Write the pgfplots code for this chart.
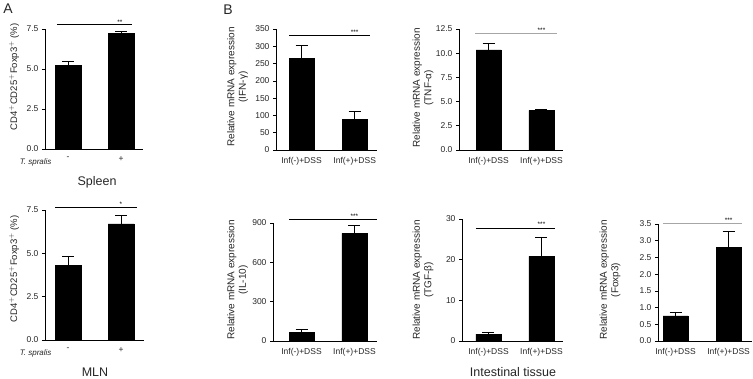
\documentclass[border=0pt]{standalone}
\usepackage{pgfplots}
\pgfplotsset{compat=1.18}
\usepackage{fontspec}
\setmainfont{Liberation Sans}
\definecolor{txt}{gray}{0.15}
\pgfplotsset{
  mybar/.style={
    scale only axis, anchor=south west,
    axis x line*=bottom, axis y line*=left,
    axis line style={black, line width=0.6pt},
    xtick={0,1}, xticklabels={Inf(-)+DSS, Inf(+)+DSS},
    major x tick style={draw=none},
    tick align=outside, major tick length=3pt,
    ytick style={black, line width=0.6pt},
    ymin=0, ybar, bar width=25pt, clip=false,
    tick label style={font=\fontsize{8.5}{9}\selectfont, text=txt},
    /pgf/number format/assume math mode=true,
    xticklabel style={yshift=-1pt},
    error bars/y dir=plus, error bars/y explicit,
    error bars/error bar style={black, line width=0.6pt},
    error bars/error mark options={rotate=90, mark size=6pt, black, line width=0.6pt},
  },
  onedec/.style={yticklabel style={/pgf/number format/.cd, fixed, fixed zerofill, precision=1}},
}
\begin{document}
\begin{tikzpicture}[x=1pt,y=1pt]
\path[use as bounding box] (0,0) rectangle (753,378);
% ---------- A top (Spleen)
\begin{axis}[mybar, onedec, at={(45pt,229pt)}, width=98pt, height=120pt,
  xmin=-0.434, xmax=1.415, ymax=7.5, ytick={0,2.5,5,7.5}, bar width=26pt,
  xticklabels={-,+}]
\addplot[fill=black, draw=black] coordinates {(0,5.25) +- (0,0.25) (1,7.25) +- (0,0.1)};
\draw[black, line width=0.5pt] (axis cs:-0.208,7.81) -- (axis cs:1.208,7.81);
\node[font=\fontsize{6.5}{6}\selectfont] at (axis cs:0.98,7.95) {**};
\end{axis}
% ---------- A bottom (MLN)
\begin{axis}[mybar, onedec, at={(45pt,38pt)}, width=99pt, height=130pt,
  xmin=-0.434, xmax=1.434, ymax=7.5, ytick={0,2.5,5,7.5}, bar width=26pt,
  xticklabels={-,+}]
\addplot[fill=black, draw=black] coordinates {(0,4.3) +- (0,0.55) (1,6.7) +- (0,0.5)};
\draw[black, line width=0.5pt] (axis cs:-0.245,7.67) -- (axis cs:1.302,7.67);
\node[font=\fontsize{6.5}{6}\selectfont] at (axis cs:1.0,7.85) {*};
\end{axis}
% ---------- IFN
\begin{axis}[mybar, at={(276pt,228pt)}, width=101pt, height=121pt,
  xmin=-0.48, xmax=1.42, ymax=350, ytick={0,50,...,350}]
\addplot[fill=black, draw=black] coordinates {(0,265) +- (0,38) (1,88) +- (0,24)};
\draw[black, line width=0.5pt] (axis cs:-0.235,332.6) -- (axis cs:1.294,332.6);
\node[font=\fontsize{6.5}{6}\selectfont] at (axis cs:1.0,340) {***};
\end{axis}
% ---------- TNF
\begin{axis}[mybar, onedec, at={(459pt,228pt)}, width=104pt, height=121pt,
  xmin=-0.557, xmax=1.406, ymax=12.5, ytick={0,2.5,...,12.5}]
\addplot[fill=black, draw=black] coordinates {(0,10.35) +- (0,0.65) (1,4.1) +- (0,0.15)};
\draw[gray!70, line width=0.8pt] (axis cs:-0.255,12.09) -- (axis cs:1.292,12.09);
\node[font=\fontsize{6.5}{6}\selectfont] at (axis cs:1.0,12.4) {***};
\end{axis}
% ---------- IL-10
\begin{axis}[mybar, at={(273pt,37pt)}, width=104pt, height=118pt,
  xmin=-0.538, xmax=1.425, ymax=900, ytick={0,300,600,900}]
\addplot[fill=black, draw=black] coordinates {(0,65) +- (0,25) (1,820) +- (0,60)};
\draw[black, line width=0.5pt] (axis cs:-0.236,930) -- (axis cs:1.425,930);
\node[font=\fontsize{6.5}{6}\selectfont] at (axis cs:1.0,952) {***};
\end{axis}
% ---------- TGF
\begin{axis}[mybar, at={(462pt,37pt)}, width=101pt, height=122pt,
  xmin=-0.5, xmax=1.406, ymax=30, ytick={0,10,20,30}]
\addplot[fill=black, draw=black] coordinates {(0,1.7) +- (0,0.5) (1,20.8) +- (0,4.8)};
\draw[black, line width=0.5pt] (axis cs:-0.236,27.8) -- (axis cs:1.255,27.8);
\node[font=\fontsize{6.5}{6}\selectfont] at (axis cs:1.0,28.6) {***};
\end{axis}
% ---------- Foxp3
\begin{axis}[mybar, onedec, at={(658pt,37pt)}, width=94pt, height=117pt,
  xmin=-0.33, xmax=1.44, ymax=3.5, ytick={0,0.5,...,3.5}]
\addplot[fill=black, draw=black] coordinates {(0,0.75) +- (0,0.12) (1,2.8) +- (0,0.47)};
\draw[gray!70, line width=0.8pt] (axis cs:-0.236,3.53) -- (axis cs:1.255,3.53);
\node[font=\fontsize{6.5}{6}\selectfont] at (axis cs:1.0,3.62) {***};
\end{axis}
% ---------- texts
\node[font=\fontsize{14}{14}\selectfont, text=txt] at (8,369) {A};
\node[font=\fontsize{14}{14}\selectfont, text=txt] at (228,368) {B};
\node[font=\fontsize{12.5}{13}\selectfont, text=txt, anchor=base, inner sep=0pt] at (97,192) {Spleen};
\node[font=\fontsize{12.5}{13}\selectfont, text=txt, anchor=base, inner sep=0pt] at (95,2) {MLN};
\node[font=\fontsize{12.5}{13}\selectfont, text=txt, anchor=base, inner sep=0pt] at (513,2) {Intestinal tissue};
\node[font=\itshape\fontsize{8}{9}\selectfont, text=txt, anchor=east] at (55,216) {T. spralis};
\node[font=\itshape\fontsize{8}{9}\selectfont, text=txt, anchor=east] at (55,25) {T. spralis};
\node[rotate=90, font=\fontsize{9.5}{10}\selectfont, text=txt] at (14,301) {CD4$^{+}$CD25$^{+}$Foxp3$^{+}$ (\%)};
\node[rotate=90, font=\fontsize{9.5}{10}\selectfont, text=txt] at (14,109) {CD4$^{+}$CD25$^{+}$Foxp3$^{+}$ (\%)};
\node[rotate=90, align=center, font=\fontsize{10}{11.5}\selectfont, text=txt] at (237.5,291) {Relative mRNA expression\\(IFN-γ)};
\node[rotate=90, align=center, font=\fontsize{10}{11.5}\selectfont, text=txt] at (423,290) {Relative mRNA expression\\(TNF-α)};
\node[rotate=90, align=center, font=\fontsize{10}{11.5}\selectfont, text=txt] at (237.5,98) {Relative mRNA expression\\(IL-10)};
\node[rotate=90, align=center, font=\fontsize{10}{11.5}\selectfont, text=txt] at (423,98) {Relative mRNA expression\\(TGF-β)};
\node[rotate=90, align=center, font=\fontsize{10}{11.5}\selectfont, text=txt] at (610,98) {Relative mRNA expression\\(Foxp3)};
\end{tikzpicture}
\end{document}
